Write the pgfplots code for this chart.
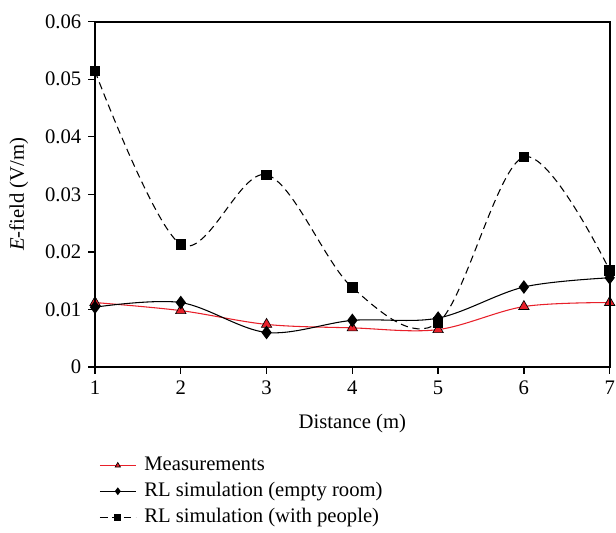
\documentclass[border=0pt]{standalone}
\usepackage{fontspec}
\setmainfont{Liberation Serif}
\usepackage{pgfplots}
\pgfplotsset{compat=1.18}
\definecolor{measred}{HTML}{E8202A}

\begin{document}
\fontsize{15.5}{18}\selectfont
\begin{tikzpicture}
\begin{axis}[
  at={(0pt,0pt)}, anchor=south west,
  scale only axis,
  width=386pt, height=259pt,
  xmin=1, xmax=7, ymin=0, ymax=0.06,
  xtick={1,...,7},
  ytick={0,0.01,...,0.06},
  scaled y ticks=false,
  yticklabel style={/pgf/number format/fixed, /pgf/number format/precision=2},
  /pgf/number format/assume math mode=true,
  tick align=outside,
  xtick pos=bottom, ytick pos=left,
  major tick length=5pt,
  axis line style={line width=1.2pt},
  tick style={line width=1pt, black},
  tick label style={font=\fontsize{15.5}{18}\selectfont},
  label style={font=\fontsize{15.5}{18}\selectfont},
  xlabel={Distance (m)},
  ylabel={\textit{E}-field (V/m)},
  xlabel style={yshift=-4pt},
  ylabel style={yshift=2pt},
  legend style={draw=none, fill=none, at={(0,-0.245)}, anchor=north west,
    font=\fontsize{15.5}{18}\selectfont, row sep=2.5pt, cells={anchor=west},
    nodes={inner xsep=6pt}},
  legend cell align=left,
  legend image code/.code={%
    \draw[mark repeat=2, mark phase=2, #1, mark size=2.3pt]
      plot coordinates {(0pt,0pt) (13.5pt,0pt) (27pt,0pt)};},
  every axis plot/.append style={smooth, tension=0.55},
]
\addplot[measred, line width=0.8pt, mark=triangle*, mark size=4.5pt,
  mark options={fill=measred, draw=black, line width=0.5pt, solid}]
  coordinates {(1,0.0112)(2,0.0098)(3,0.0074)(4,0.0068)(5,0.0065)(6,0.0105)(7,0.0112)};
\addlegendentry{Measurements}
\addplot[black, line width=0.8pt, mark=diamond*, mark size=4.5pt, mark options={solid}]
  coordinates {(1,0.0104)(2,0.0112)(3,0.0060)(4,0.0081)(5,0.0085)(6,0.0139)(7,0.0155)};
\addlegendentry{RL simulation (empty room)}
\addplot[black, line width=0.8pt, dash pattern=on 5.5pt off 3.5pt, mark=square*, mark size=3.5pt, mark options={solid}]
  coordinates {(1,0.0514)(2,0.0213)(3,0.0334)(4,0.0138)(5,0.0077)(6,0.0365)(7,0.0168)};
\addlegendentry{RL simulation (with people)}
\end{axis}
\draw[line width=1.6pt] (0pt,0pt) rectangle (386pt,259pt);
\pgfresetboundingbox
\path (-71.25pt,-123.75pt) rectangle (390.75pt,275.25pt);
\end{tikzpicture}
\end{document}
